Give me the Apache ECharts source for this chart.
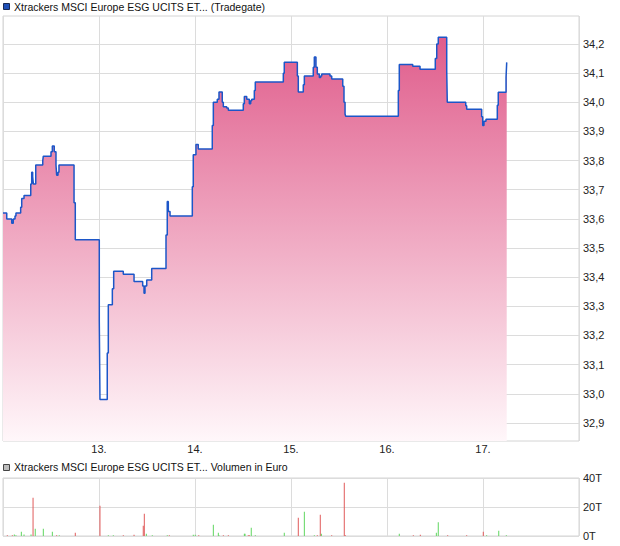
<!DOCTYPE html>
<html>
<head>
<meta charset="utf-8">
<script src="https://cdn.jsdelivr.net/npm/echarts@6/dist/echarts.min.js"></script>
<style>
html,body{margin:0;padding:0;background:#fff;}
#c{width:620px;height:546px;}
</style>
</head>
<body>
<div id="c"></div>
<script>
// ---- data (x in day-of-month units) ----
const priceTitle = "Xtrackers MSCI Europe ESG UCITS ET... (Tradegate)";
const volumeTitle = "Xtrackers MSCI Europe ESG UCITS ET... Volumen in Euro";
const dayTicks = [13, 14, 15, 16, 17];
const priceTicks = [32.9, 33.0, 33.1, 33.2, 33.3, 33.4, 33.5, 33.6, 33.7, 33.8, 33.9, 34.0, 34.1, 34.2];
const volumeTicks = [0, 20000, 40000];

const priceTimes = [12.000, 12.039, 12.091, 12.107, 12.125, 12.135, 12.184, 12.195, 12.219, 12.289,
  12.299, 12.309, 12.316, 12.341, 12.414, 12.420, 12.500, 12.514, 12.534, 12.552,
  12.559, 12.573, 12.583, 12.740, 12.753, 13.003, 13.010, 13.086, 13.097, 13.139,
  13.153, 13.253, 13.365, 13.455, 13.469, 13.479, 13.497, 13.549, 13.698, 13.711,
  13.722, 13.740, 13.972, 13.982, 14.010, 14.034, 14.180, 14.191, 14.232, 14.250,
  14.284, 14.295, 14.330, 14.347, 14.503, 14.514, 14.539, 14.566, 14.580, 14.591,
  14.618, 14.628, 14.920, 14.930, 15.066, 15.076, 15.128, 15.139, 15.232, 15.243,
  15.260, 15.274, 15.295, 15.309, 15.320, 15.406, 15.424, 15.539, 15.552, 15.563,
  15.570, 16.118, 16.128, 16.268, 16.344, 16.503, 16.518, 16.534, 16.622, 16.628,
  16.820, 16.830, 16.986, 16.997, 17.010, 17.031, 17.149, 17.159, 17.240, 17.247];
const prices = [33.62, 33.60, 33.585, 33.60, 33.61, 33.62, 33.64, 33.67, 33.68, 33.72,
  33.76, 33.745, 33.72, 33.785, 33.80, 33.815, 33.83, 33.85, 33.83, 33.785,
  33.75, 33.76, 33.785, 33.655, 33.528, 33.25, 32.98, 33.14, 33.305, 33.36,
  33.42, 33.41, 33.385, 33.37, 33.345, 33.37, 33.39, 33.43, 33.545, 33.66,
  33.625, 33.61, 33.71, 33.82, 33.855, 33.84, 33.92, 34.00, 34.01, 34.035,
  34.00, 33.985, 33.98, 33.973, 33.995, 34.02, 34.01, 33.995, 34.005, 34.01,
  34.04, 34.07, 34.10, 34.137, 34.09, 34.035, 34.06, 34.09, 34.12, 34.155,
  34.12, 34.097, 34.085, 34.09, 34.097, 34.09, 34.08, 34.055, 34.00, 33.96,
  33.952, 34.04, 34.13, 34.124, 34.113, 34.15, 34.20, 34.223, 34.11, 34.00,
  33.988, 33.976, 33.95, 33.92, 33.935, 33.942, 33.99, 34.034, 34.086, 34.137];

const volTimes = [12.045, 12.097, 12.118, 12.135, 12.191, 12.219, 12.292, 12.313, 12.336, 12.420,
  12.514, 12.559, 12.586, 12.753, 13.010, 13.097, 13.149, 13.253, 13.365, 13.461,
  13.472, 13.493, 13.555, 13.711, 13.732, 13.982, 14.003, 14.039, 14.191, 14.243,
  14.250, 14.295, 14.347, 14.514, 14.521, 14.555, 14.566, 14.586, 14.628, 14.930,
  15.076, 15.139, 15.243, 15.274, 15.305, 15.316, 15.424, 15.555, 15.566, 16.128,
  16.274, 16.347, 16.514, 16.534, 16.632, 16.830, 17.003, 17.038, 17.164, 17.243];
const volumes = [500, 500, 1100, 500, 3000, 1100, 1100, 26400, 5000, 5000,
  3000, 500, 500, 2300, 20900, 500, 500, 500, 900, 7100,
  15400, 1600, 500, 500, 500, 900, 900, 500, 7800, 2300,
  500, 500, 500, 1600, 1600, 500, 500, 5700, 500, 2300,
  12600, 16800, 500, 500, 14700, 1600, 500, 36800, 500, 1600,
  500, 900, 2300, 9400, 500, 500, 3000, 500, 3700, 500];
const volSides = ['d','d','u','u','u','u','u','d','u','u',
  'u','d','u','d','d','u','u','d','d','d',
  'd','u','u','u','d','u','u','d','u','u',
  'u','d','d','u','u','d','d','u','u','u',
  'd','u','u','d','d','u','d','d','d','u',
  'd','d','u','u','d','d','d','u','u','u'];

// ---- chart ----
const FONT = 'Liberation Sans, Arial, sans-serif';
const pMin = 32.838, pMax = 34.296;
const fmtPrice = v => v.toFixed(1).replace('.', ',');
const fmtDay = v => dayTicks.indexOf(Math.round(v)) >= 0 ? Math.round(v) + '.' : '';

const chart = echarts.init(document.getElementById('c'), null, {renderer: 'svg'});
chart.setOption({
  animation: false,
  backgroundColor: '#fff',
  textStyle: {fontFamily: FONT},
  graphic: [
    {type: 'rect', left: 3, top: 3, shape: {width: 6, height: 6}, style: {fill: '#1f50b8', stroke: '#1a2a55', lineWidth: 1}},
    {type: 'text', left: 14, top: 1, style: {text: priceTitle, font: '10.5px ' + FONT, fill: '#111'}},
    {type: 'rect', left: 3, top: 464, shape: {width: 6, height: 6}, style: {fill: '#bdbdbd', stroke: '#444', lineWidth: 1}},
    {type: 'text', left: 14, top: 461, style: {text: volumeTitle, font: '10.5px ' + FONT, fill: '#111'}}
  ],
  grid: [
    {left: 3, top: 16, width: 576, height: 425, show: true, borderColor: '#d4d4d4', borderWidth: 1, backgroundColor: 'transparent'},
    {left: 3, top: 478, width: 576, height: 58, show: true, borderColor: '#d4d4d4', borderWidth: 1, backgroundColor: 'transparent'}
  ],
  xAxis: [
    {type: 'value', gridIndex: 0, min: 12, max: 18, interval: 1,
     axisLine: {show: false}, axisTick: {show: false},
     splitLine: {show: true, lineStyle: {color: '#dcdcdc', width: 1}},
     axisLabel: {formatter: fmtDay, color: '#222', fontSize: 11, fontFamily: FONT, margin: 2}},
    {type: 'value', gridIndex: 1, min: 12, max: 18, interval: 1,
     axisLine: {show: false}, axisTick: {show: false},
     splitLine: {show: true, lineStyle: {color: '#dcdcdc', width: 1}},
     axisLabel: {show: false}}
  ],
  yAxis: [
    {type: 'value', gridIndex: 0, position: 'right', min: pMin, max: pMax,
     axisLine: {show: false},
     axisTick: {show: false, customValues: priceTicks},
     splitLine: {show: true, lineStyle: {color: '#dcdcdc', width: 1}},
     axisLabel: {customValues: priceTicks, formatter: fmtPrice, color: '#222', fontSize: 11, fontFamily: FONT, margin: 4}},
    {type: 'value', gridIndex: 1, position: 'right', min: 0, max: 40000, interval: 20000,
     axisLine: {show: false}, axisTick: {show: false},
     splitLine: {show: true, lineStyle: {color: '#dcdcdc', width: 1}},
     axisLabel: {formatter: v => (v / 1000) + 'T', color: '#222', fontSize: 11, fontFamily: FONT, margin: 4}}
  ],
  series: [
    {type: 'line', xAxisIndex: 0, yAxisIndex: 0, step: 'end', showSymbol: false,
     data: priceTimes.map((t, i) => [t, prices[i]]),
     lineStyle: {color: '#1c56c8', width: 1.5},
     areaStyle: {origin: 'start', opacity: 1,
       color: {type: 'linear', x: 0, y: 16, x2: 0, y2: 441, global: true,
         colorStops: [{offset: 0, color: '#de5586'}, {offset: 0.5, color: '#efa6c0'}, {offset: 1, color: '#fff7fa'}]}},
     z: 3},
    {type: 'bar', xAxisIndex: 1, yAxisIndex: 1, barWidth: 1,
     data: volTimes.map((t, i) => ({value: [t, volumes[i]],
       itemStyle: {color: volSides[i] === 'u' ? '#5fd65f' : '#e05a5a'}}))}
  ]
});
</script>
</body>
</html>
